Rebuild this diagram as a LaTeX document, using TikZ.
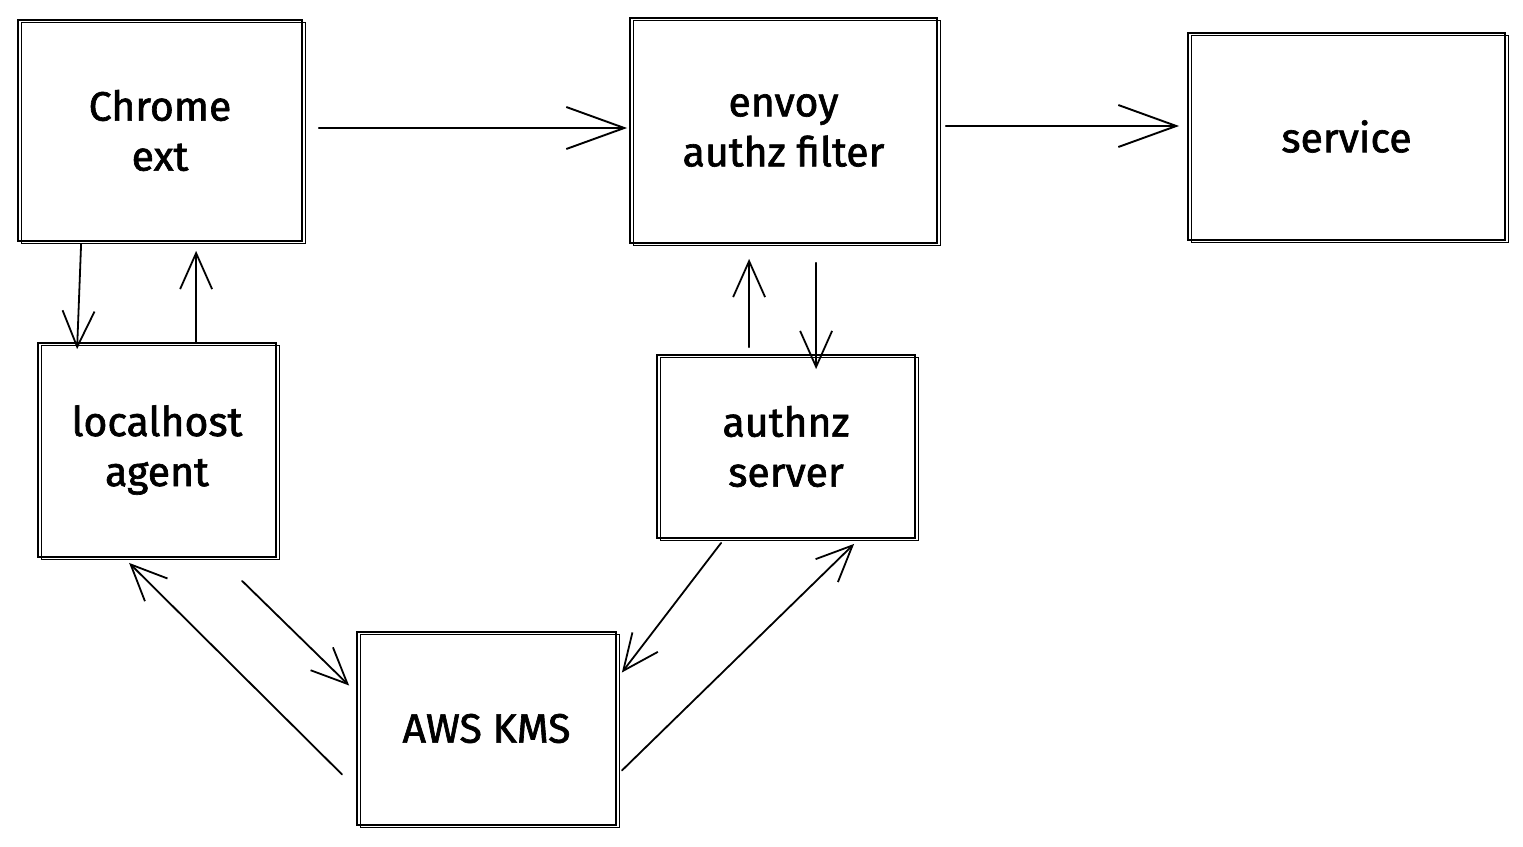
\documentclass[tikz,border=0pt]{standalone}
\usepackage{fontspec}
\setmainfont{Fira Sans}
\newfontfamily\handfont{Fira Sans}[FakeBold=1.6]
\usetikzlibrary{arrows.meta,calc}
\tikzset{
  box/.style={draw=black, line width=1.8pt, rectangle, align=center,
    font=\handfont\fontsize{41}{50}\selectfont,
    preaction={draw=black, line width=0.9pt, transform canvas={xshift=3pt,yshift=-2pt}}},
  arr/.style={draw=black, line width=1.8pt, line cap=round,
    -{Straight Barb[length=36pt,width=32pt,line width=1.8pt]}},
  bigarr/.style={arr, -{Straight Barb[length=58pt,width=42pt,line width=1.9pt]}},
}
\begin{document}
\begin{tikzpicture}[x=1pt,y=-1pt]
\useasboundingbox (0,0) rectangle (1523,846);
\node[box, minimum width=284pt, minimum height=221pt] (chrome) at (160,130.5) {Chrome\\ext};
\node[box, minimum width=307pt, minimum height=225pt] (envoy) at (783.5,130.5) {envoy\\authz filter};
\node[box, minimum width=317pt, minimum height=207pt] (service) at (1346.5,136.5) {service};
\node[box, minimum width=238pt, minimum height=214pt] (localhost) at (157,450) {localhost\\agent};
\node[box, minimum width=258pt, minimum height=183pt] (authnz) at (786,446.5) {authnz\\server};
\node[box, minimum width=259pt, minimum height=193pt] (kms) at (486.5,728.5) {AWS KMS};

\draw[bigarr] ($(chrome.east)+(16,-2.5)$) -- ($(envoy.west)+(-2,-2.5)$);
\draw[bigarr] ($(envoy.east)+(8,-4.5)$) -- ($(service.west)+(-8,-10.5)$);

\draw[arr] ($(chrome.south west)+(64,2)$) -- ($(localhost.north west)+(40,7)$);
\draw[arr] ($(localhost.north west)+(159,0)$) -- ($(chrome.south west)+(179,9)$);

\draw[arr] ($(authnz.north west)+(93,-7)$) -- ($(envoy.south west)+(120,15)$);
\draw[arr] ($(envoy.south west)+(187,19)$) -- ($(authnz.north west)+(160,15)$);

\draw[arr] ($(localhost.south west)+(205,23)$) -- ($(kms.west)+(-7,-43)$);
\draw[arr] ($(kms.west)+(-14,46)$) -- ($(localhost.south west)+(92,5)$);

\draw[arr] ($(authnz.south west)+(65,4)$) -- ($(kms.east)+(5,-56)$);
\draw[arr] ($(kms.east)+(5,42)$) -- ($(authnz.south west)+(198,5)$);
\end{tikzpicture}
\end{document}
